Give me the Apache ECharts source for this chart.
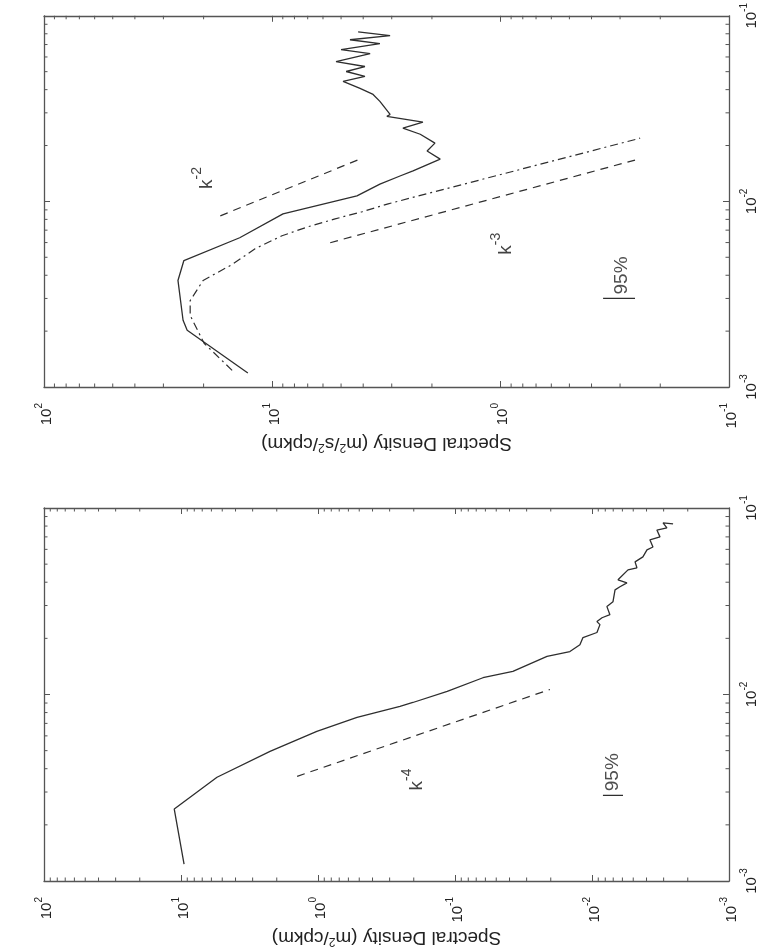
<!DOCTYPE html>
<html><head><meta charset="utf-8">
<script src="https://cdn.jsdelivr.net/npm/echarts@6/dist/echarts.min.js"></script>
<style>html,body{margin:0;padding:0;background:#fff}#c{width:764px;height:948px}</style>
</head><body><div id="c"></div>
<script>
// ---------- DATA ----------
// Upper panel: velocity spectrum, Spectral Density (m^2/s^2/cpkm) vs wavenumber (cpkm)
const topSolidD = [12.8, 23.6, 24.6, 25.9, 24.4, 13.9, 8.98, 4.26, 3.38, 2.76, 2.42, 1.84, 2.10, 1.94, 2.25, 2.68, 2.19, 3.15, 3.05, 3.38, 3.62, 4.13, 4.90, 3.93, 4.75, 3.93, 5.26, 3.73, 5.0, 3.38, 4.57, 3.05, 4.21];
const topSolidK = [0.00119, 0.00202, 0.00229, 0.00375, 0.0048, 0.00637, 0.00857, 0.0107, 0.0124, 0.0137, 0.0146, 0.0169, 0.0187, 0.0206, 0.0230, 0.0248, 0.0267, 0.0287, 0.0294, 0.0346, 0.0377, 0.0406, 0.0443, 0.0471, 0.0501, 0.0533, 0.0567, 0.0625, 0.0657, 0.0708, 0.0743, 0.0781, 0.0820];
const topDashDotD = [15.0, 19.9, 22.9, 22.9, 20.1, 15.0, 11.9, 9.07, 6.98, 5.31, 4.05, 3.11, 0.245];
const topDashDotK = [0.00123, 0.00172, 0.00243, 0.00292, 0.00375, 0.00457, 0.00556, 0.00653, 0.0073, 0.00805, 0.00879, 0.0097, 0.0219];
const topK2D = [16.9, 4.13];
const topK2K = [0.00836, 0.0169];
const topK3D = [5.58, 0.258];
const topK3K = [0.00599, 0.0167];
const topBarD = [0.356, 0.258];
const topBarK = [0.0030, 0.0030];
const topLabels = [
  {text: 'k', exp: '-2', D: 20.1, K: 0.01336},
  {text: 'k', exp: '-3', D: 0.986, K: 0.00592},
  {text: '95%', exp: '', D: 0.294, K: 0.00399}
];
// Lower panel: displacement spectrum, Spectral Density (m^2/cpkm) vs wavenumber
const botSolidD = [9.5, 11.2, 5.46, 2.24, 1.02, 0.519, 0.252, 0.203, 0.114, 0.0625, 0.0378, 0.0213, 0.0145, 0.01225, 0.01164, 0.0092, 0.00875, 0.0092, 0.00845, 0.0074, 0.00778, 0.00703, 0.00679, 0.00625, 0.00556, 0.00646, 0.00546, 0.0047, 0.00485, 0.00425, 0.00397, 0.00359, 0.00378, 0.00319, 0.00336, 0.00284, 0.00303, 0.00256];
const botSolidK = [0.00123, 0.00243, 0.0036, 0.00496, 0.00634, 0.00753, 0.00863, 0.00906, 0.0104, 0.0123, 0.0133, 0.0160, 0.0170, 0.0185, 0.0202, 0.0215, 0.0237, 0.0246, 0.0258, 0.0268, 0.0296, 0.0314, 0.0364, 0.0378, 0.0397, 0.0412, 0.0466, 0.0478, 0.0514, 0.0547, 0.0596, 0.0618, 0.0675, 0.070, 0.0762, 0.0782, 0.0832, 0.0821];
const botK4D = [1.42, 0.0203];
const botK4K = [0.00364, 0.01064];
const botBarD = [0.00832, 0.00594];
const botBarK = [0.00288, 0.00288];
const botLabels = [
  {text: 'k', exp: '-4', D: 0.203, K: 0.0035},
  {text: '95%', exp: '', D: 0.00703, K: 0.00383}
];
// Axis ranges
const topDRange = [0.1, 100];
const botDRange = [0.001, 100];
const kRange = [0.001, 0.1];
const topTitle = 'Spectral Density (m{s|2}/s{s|2}/cpkm)';
const botTitle = 'Spectral Density (m{s|2}/cpkm)';

// ---------- CHART ----------
const FONT = '"Liberation Sans", Arial, Helvetica, sans-serif';
const INK = '#2e2e2e';
const AX = '#555';
const zip = (a, b) => a.map((v, i) => [v, b[i]]);

function expFmt(v) {
  const e = Math.round(Math.log10(v));
  return '{b|10}{e|' + (e < 0 ? '-' : '') + Math.abs(e) + '}';
}
const tickRich = {
  b: {fontSize: 15, fontFamily: FONT, color: '#222', lineHeight: 20, verticalAlign: 'bottom'},
  e: {fontSize: 10, fontFamily: FONT, color: '#222', lineHeight: 20, verticalAlign: 'top'}
};
function minorVals(lo, hi) {
  const out = [];
  for (let e = Math.floor(Math.log10(lo)); e < Math.log10(hi); e++) {
    for (let m = 2; m <= 9; m++) {
      const v = m * Math.pow(10, e);
      if (v > lo * 1.0001 && v < hi * 0.9999) out.push(v);
    }
  }
  return out;
}

function gridAxes(g, dRange, title) {
  const common = {gridIndex: g, type: 'log', logBase: 10, min: dRange[0], max: dRange[1], inverse: true,
    axisLine: {lineStyle: {color: AX, width: 1.3}},
    axisTick: {inside: true, length: 6, lineStyle: {color: AX, width: 1}},
    splitLine: {show: false}, minorTick: {show: false}};
  const xs = [
    Object.assign({}, common, {position: 'bottom',
      axisLabel: {rotate: 90, margin: 16, formatter: expFmt, rich: tickRich},
      name: title, nameLocation: 'middle', nameGap: 46, nameRotate: 180,
      nameTextStyle: {fontFamily: FONT, fontSize: 19, color: '#222',
        rich: {s: {fontSize: 12, fontFamily: FONT, color: '#222', verticalAlign: 'top', lineHeight: 20}}}}),
    Object.assign({}, common, {position: 'top', axisLabel: {show: false}})
  ];
  const ycommon = {gridIndex: g, type: 'log', logBase: 10, min: kRange[0], max: kRange[1],
    axisLine: {lineStyle: {color: AX, width: 1.3}},
    axisTick: {inside: true, length: 6, lineStyle: {color: AX, width: 1}},
    splitLine: {show: false}};
  const ys = [
    Object.assign({}, ycommon, {position: 'right', axisLabel: {rotate: 90, margin: 10, formatter: expFmt, rich: tickRich}}),
    Object.assign({}, ycommon, {position: 'left', axisLabel: {show: false}})
  ];
  return {xs, ys};
}

function tickSeries(ai, dRange) {
  const data = [];
  const kMid = Math.sqrt(kRange[0] * kRange[1]);
  const dMid = Math.sqrt(dRange[0] * dRange[1]);
  minorVals(dRange[0], dRange[1]).forEach(v => data.push([v, kMid, 0]));
  minorVals(kRange[0], kRange[1]).forEach(v => data.push([dMid, v, 1]));
  return {
    type: 'custom', xAxisIndex: ai, yAxisIndex: ai, silent: true, clip: false, z: 1,
    data: data,
    renderItem: function (params, api) {
      const L = 3.5;
      const st = {stroke: AX, lineWidth: 1};
      if (api.value(2) === 0) {
        const v = api.value(0);
        const a = api.coord([v, kRange[0]]);
        const b = api.coord([v, kRange[1]]);
        return {type: 'group', children: [
          {type: 'line', shape: {x1: a[0], y1: a[1], x2: a[0], y2: a[1] - L}, style: st},
          {type: 'line', shape: {x1: b[0], y1: b[1], x2: b[0], y2: b[1] + L}, style: st}
        ]};
      } else {
        const v = api.value(1);
        const a = api.coord([dRange[1], v]);
        const b = api.coord([dRange[0], v]);
        return {type: 'group', children: [
          {type: 'line', shape: {x1: a[0], y1: a[1], x2: a[0] + L, y2: a[1]}, style: st},
          {type: 'line', shape: {x1: b[0], y1: b[1], x2: b[0] - L, y2: b[1]}, style: st}
        ]};
      }
    }
  };
}

function lineS(ai, D, K, type, width) {
  return {type: 'line', xAxisIndex: ai, yAxisIndex: ai, data: zip(D, K), showSymbol: false, symbol: 'none',
    silent: true, lineStyle: {color: INK, width: width || 1.2, type: type || 'solid'}, z: 3};
}
function labelS(ai, labels) {
  return {type: 'scatter', xAxisIndex: ai, yAxisIndex: ai, symbolSize: 0, silent: true, z: 5,
    data: labels.map(l => ({value: [l.D, l.K],
      label: {show: true, position: 'inside', rotate: 90,
        formatter: l.exp ? '{k|' + l.text + '}{e|' + l.exp + '}' : '{p|' + l.text + '}',
        rich: {
          k: {fontSize: 19, fontFamily: FONT, color: '#111', lineHeight: 26, verticalAlign: 'bottom'},
          e: {fontSize: 14, fontFamily: FONT, color: '#111', lineHeight: 26, verticalAlign: 'top'},
          p: {fontSize: 19, fontFamily: FONT, color: '#222'}
        }}}))};
}

const A = gridAxes(0, topDRange, topTitle);
const B = gridAxes(1, botDRange, botTitle);

const option = {
  animation: false,
  backgroundColor: '#fff',
  grid: [
    {left: 44, right: 35, top: 14, height: 373},
    {left: 44, right: 35, top: 508, height: 374}
  ],
  xAxis: [A.xs[0], A.xs[1], B.xs[0], B.xs[1]],
  yAxis: [A.ys[0], A.ys[1], B.ys[0], B.ys[1]],
  series: [
    tickSeries(0, topDRange),
    lineS(0, topSolidD, topSolidK, 'solid', 1.3),
    lineS(0, topDashDotD, topDashDotK, [8, 4, 2, 4], 1.2),
    lineS(0, topK2D, topK2K, [8, 6], 1.2),
    lineS(0, topK3D, topK3K, [8, 6], 1.2),
    lineS(0, topBarD, topBarK, 'solid', 1.3),
    labelS(0, topLabels),
    tickSeries(2, botDRange),
    lineS(2, botSolidD, botSolidK, 'solid', 1.3),
    lineS(2, botK4D, botK4K, [8, 6], 1.2),
    lineS(2, botBarD, botBarK, 'solid', 1.3),
    labelS(2, botLabels)
  ]
};
const chart = echarts.init(document.getElementById('c'), null, {renderer: 'canvas'});
chart.setOption(option);
</script></body></html>
